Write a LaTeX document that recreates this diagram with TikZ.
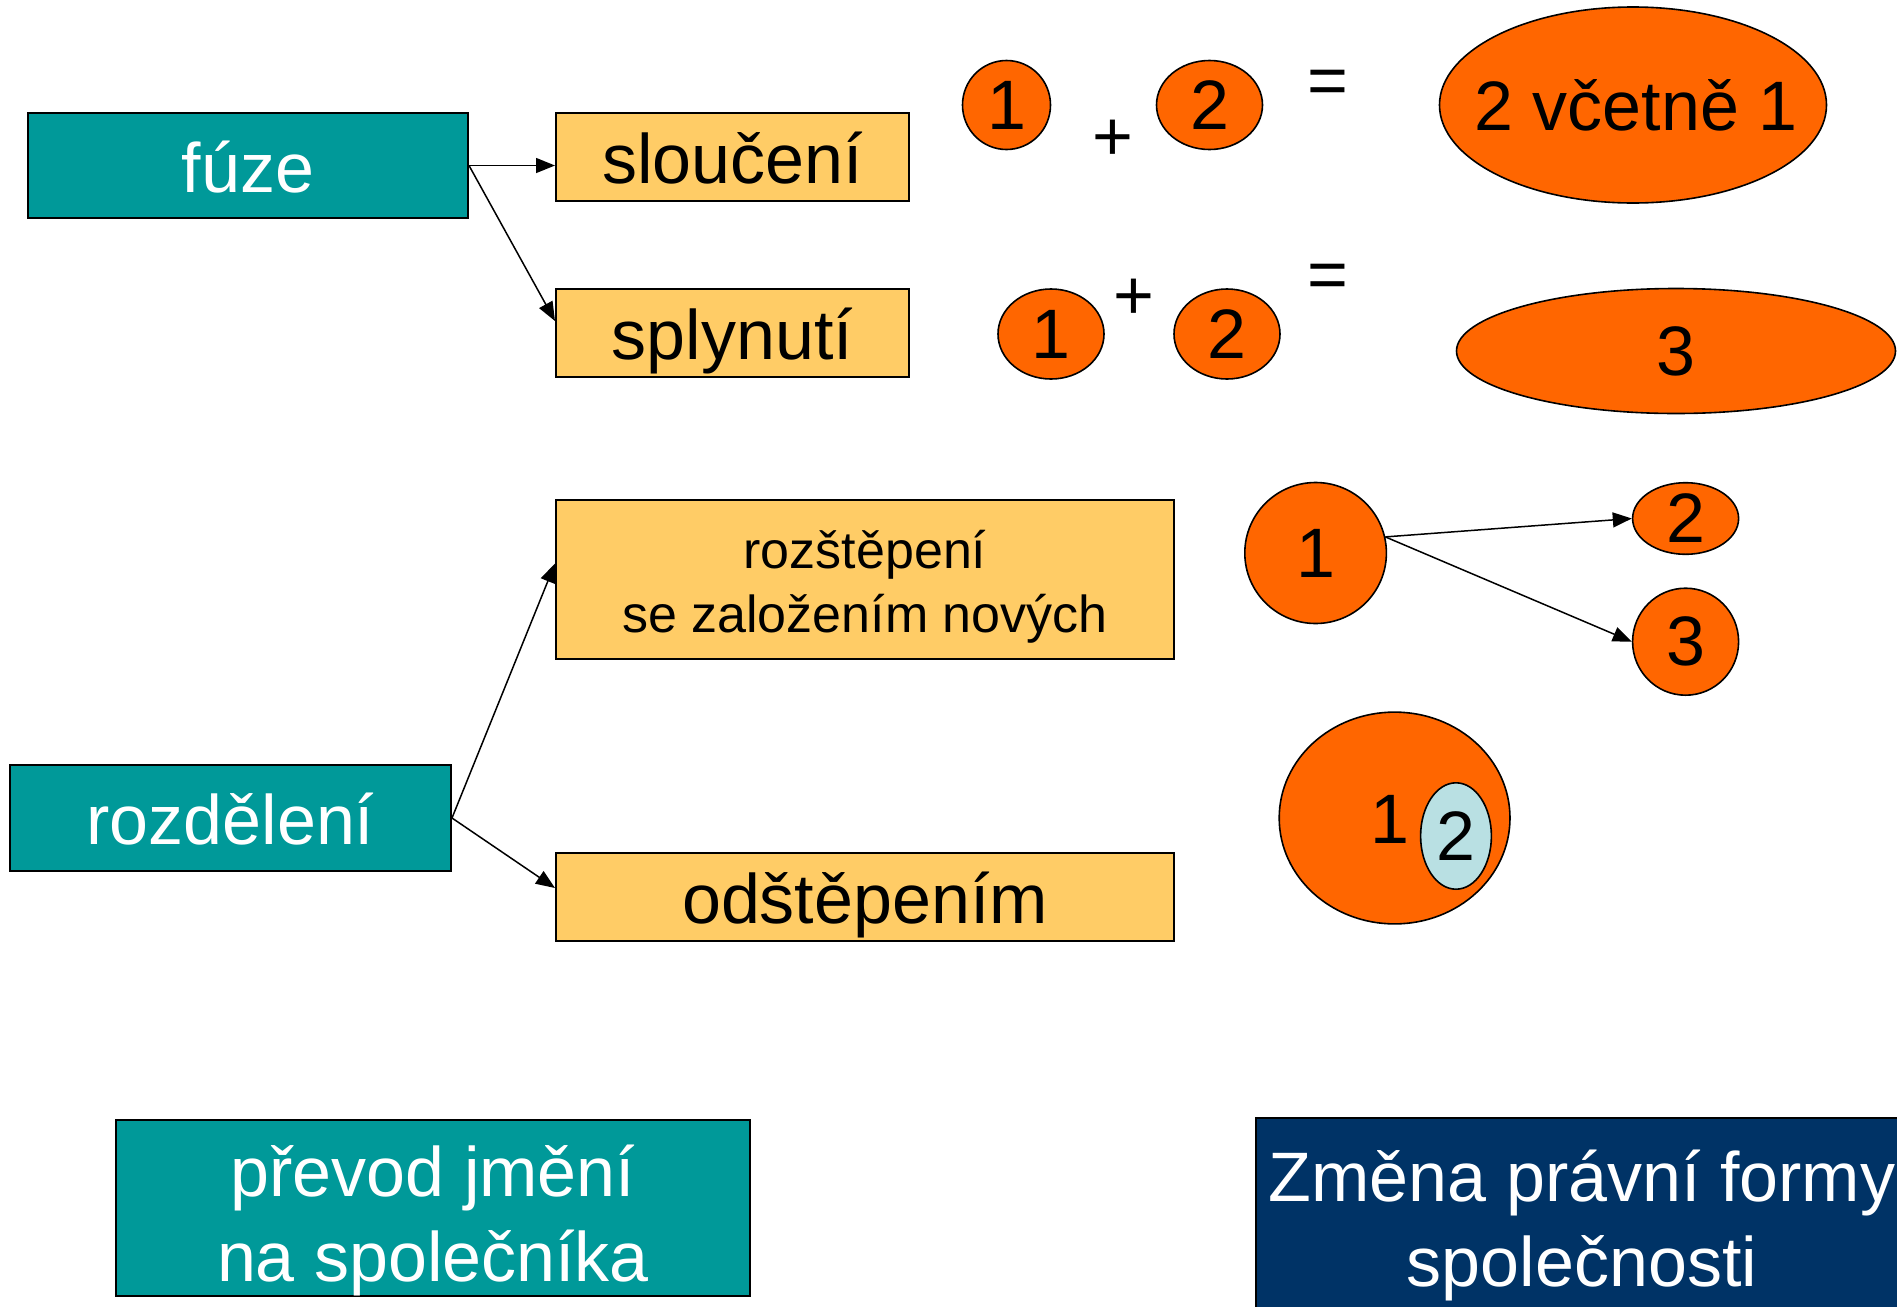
\documentclass[tikz,border=0pt]{standalone}
\usepackage{fontspec}
\setmainfont{Liberation Sans}
\usetikzlibrary{shapes.geometric,arrows.meta}
\definecolor{tealc}{HTML}{009999}
\definecolor{yelc}{HTML}{FFCC66}
\definecolor{orc}{HTML}{FF6600}
\definecolor{navc}{HTML}{003366}
\definecolor{lbc}{HTML}{B9E0E3}
\newcommand{\bigf}{\fontsize{35}{42.5}\selectfont}
\newcommand{\midf}{\fontsize{26}{32}\selectfont}
\tikzset{
  boxbase/.style={rectangle, draw=black, line width=1pt, inner sep=0pt, align=center, font=\bigf},
  oneline/.style={text height=33pt, text depth=6.4pt},
  tbox/.style={boxbase, fill=tealc, text=white},
  nbox/.style={boxbase, fill=navc, text=white},
  ybox/.style={boxbase, fill=yelc, text=black},
  wtxt/.style={inner sep=0pt, align=center, font=\bigf, text=white},
  btxt/.style={inner sep=0pt, align=center, text=black},
  oel/.style={ellipse, draw=black, line width=0.8pt, fill=orc, inner sep=0pt, font=\bigf},
  lel/.style={ellipse, draw=black, line width=0.8pt, fill=lbc, inner sep=0pt, font=\bigf},
  sym/.style={inner sep=0pt, font=\bigf},
  arr/.style={-{Triangle[length=9.5pt,width=7.5pt]}, line width=0.75pt}
}
\begin{document}
\begin{tikzpicture}[x=0.5pt,y=-0.5pt]
\clip (0,0) rectangle (1897,1307);
\fill[white] (0,0) rectangle (1897,1307);
% left boxes
\node[tbox, oneline, minimum width=220pt, minimum height=52.5pt] (fuze) at (248,165.5) {fúze};
\node[ybox, oneline, minimum width=176.5pt, minimum height=44pt] (slo) at (732.5,157) {sloučení};
\node[ybox, oneline, minimum width=176.5pt, minimum height=44pt] (spl) at (732.5,333) {splynutí};
\node[ybox, minimum width=309pt, minimum height=79.5pt] (roz) at (865,579.5) {};
\node[btxt, font=\midf] (rozt) at ([yshift=-3.5pt]roz.center) {rozštěpení\\se založením nových};
\node[ybox, oneline, minimum width=309pt, minimum height=44pt] (ods) at (865,897) {odštěpením};
\node[tbox, oneline, minimum width=220.5pt, minimum height=53pt] (rozd) at (230.5,818) {rozdělení};
\node[tbox, minimum width=317pt, minimum height=88pt] (prev) at (433,1208) {};
\node[wtxt] (prevt) at ([yshift=-6pt]prev.center) {převod jmění\\na společníka};
\node[nbox, minimum width=326.5pt, minimum height=101pt] (zm) at (1582,1219) {};
\node[wtxt] (zmt) at ([yshift=-3pt]zm.center) {Změna právní formy\\společnosti};
% arrows
\draw[arr] (fuze.east) -- (fuze.east -| slo.west);
\draw[arr] (fuze.east) -- ([yshift=6pt]spl.west);
\draw[arr] (rozd.east) -- ([yshift=8pt]roz.west);
\draw[arr] (rozd.east) -- ([yshift=4.5pt]ods.west);
% row 1
\node[oel, minimum width=44pt, minimum height=44.5pt] (a1) at (1006.5,105) {1};
\node[sym] (pl1) at (1113,140) {+};
\node[oel, minimum width=53pt, minimum height=44.5pt] (a2) at (1209.5,105) {2};
\node[sym] (eq1) at (1328,87) {=};
\node[oel, minimum width=193.5pt, minimum height=98pt] (a12) at (1633,105) {};
\node[sym] (a12t) at (1636,105) {2 včetně 1};
% row 2
\node[oel, minimum width=53pt, minimum height=45pt] (b1) at (1051,334) {1};
\node[sym] (pl2) at (1134,299) {+};
\node[oel, minimum width=53pt, minimum height=45pt] (b2) at (1227,334) {2};
\node[sym] (eq2) at (1328,281) {=};
\node[oel, minimum width=219.5pt, minimum height=62.5pt] (b3) at (1676,351) {3};
% split
\node[oel, minimum width=70.8pt, minimum height=70.5pt] (c1) at (1315.6,553) {1};
\node[oel, minimum width=53pt, minimum height=35.8pt] (c2) at (1685.6,518.5) {2};
\node[oel, minimum width=53pt, minimum height=53.5pt] (c3) at (1685.6,641.7) {3};
\draw[arr] (c1.13) -- (c2.west);
\draw[arr] (c1.13) -- (c3.west);
% spin-off
\node[oel, minimum width=115.4pt, minimum height=105.9pt] (d1) at (1394.6,818) {};
\node[sym] (d1t) at (1390,819) {1};
\node[lel, minimum width=35.4pt, minimum height=53.2pt] (d2) at (1456,836) {2};
\end{tikzpicture}
\end{document}
